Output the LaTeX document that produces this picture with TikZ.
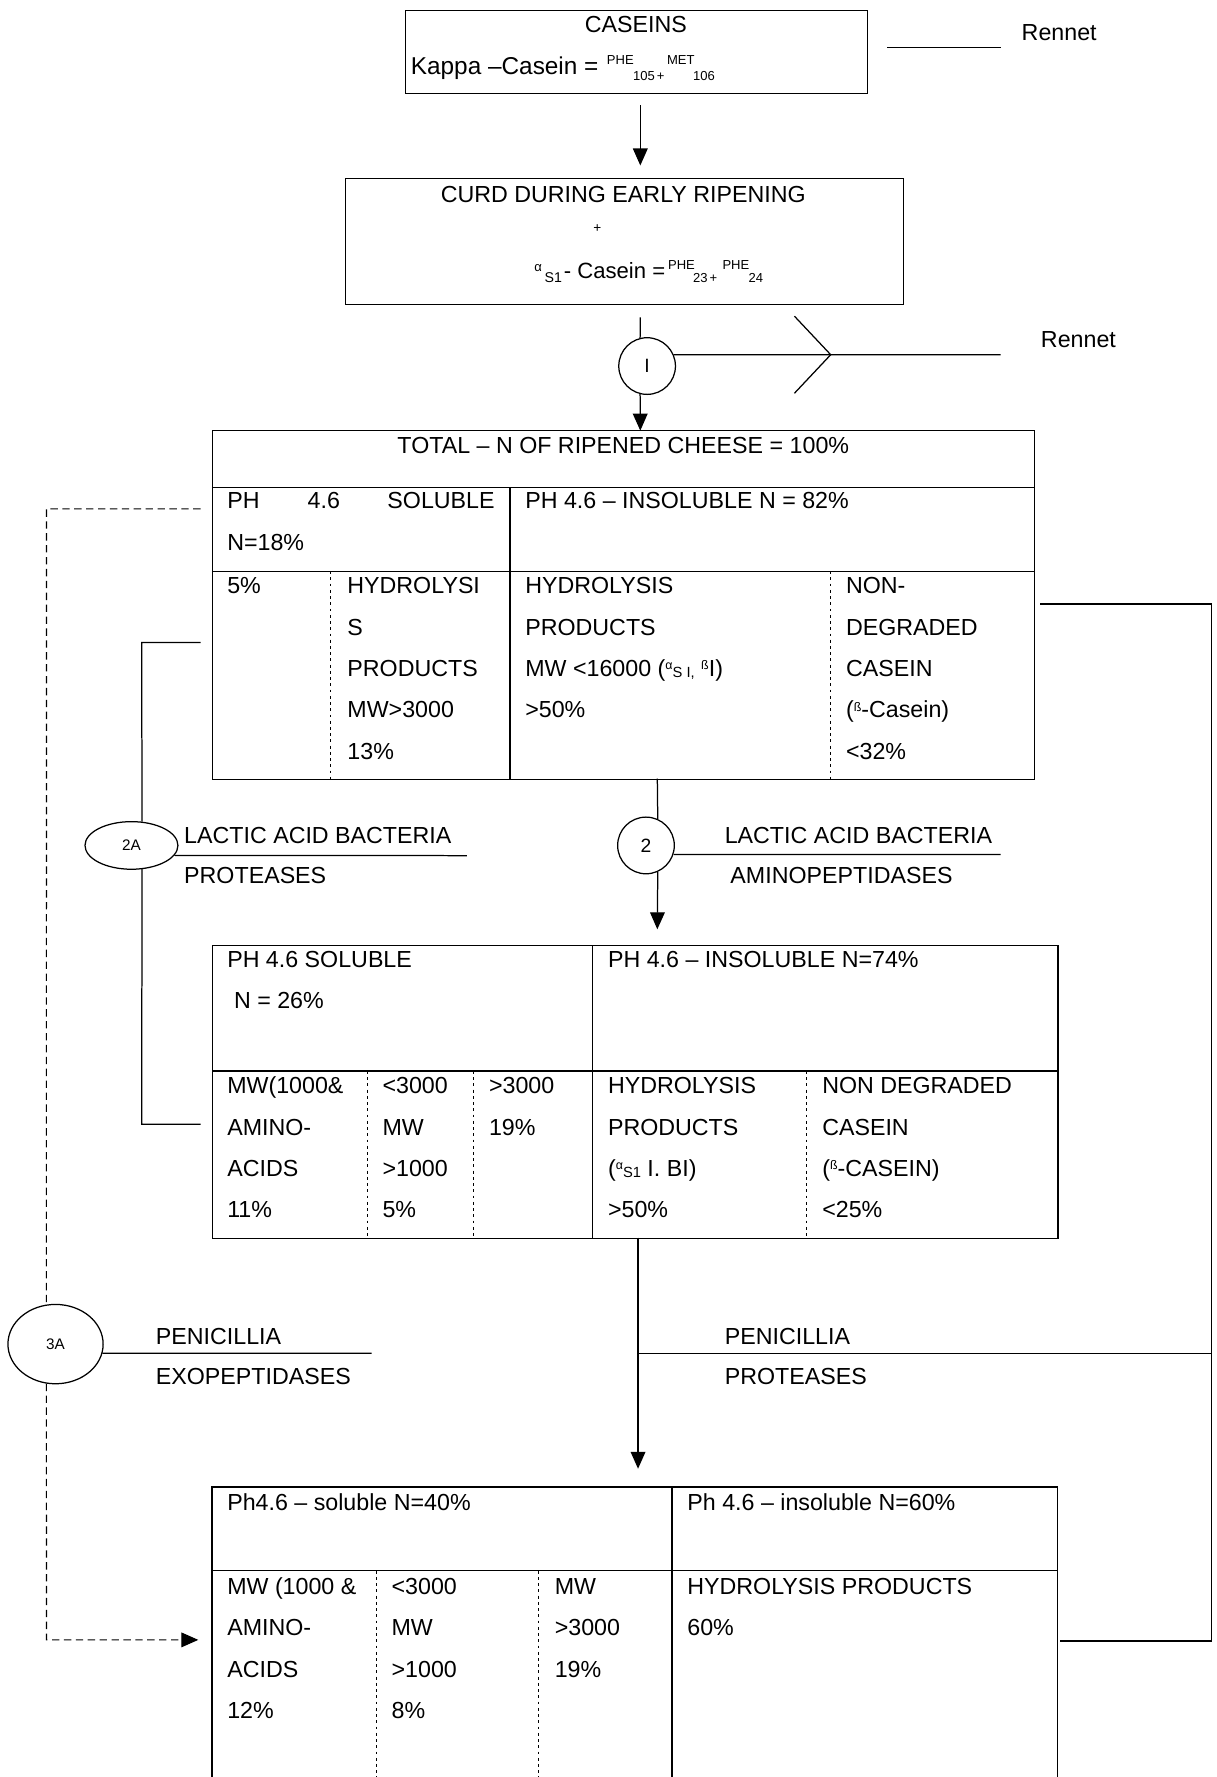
\documentclass[tikz,border=0pt]{standalone}
\usepackage{fontspec}
\setmainfont{Liberation Sans}
\usetikzlibrary{arrows.meta,shapes.geometric}
\newcommand\smsup[1]{\raisebox{6pt}{\fontsize{11}{11}\selectfont #1}}
\newcommand\smsub[1]{\raisebox{-1pt}{\fontsize{13}{13}\selectfont #1}}
\newcommand\celltext[4]{\foreach \tline [count=\ti from 0] in {#4} {\node[txt] (#1-\ti) at (#2,#3+36.5*\ti) {\tline};}}
\begin{document}
\begin{tikzpicture}[x=1pt,y=-1pt,line width=1.1pt,
  txt/.style={anchor=base west,inner sep=0pt,font=\fontsize{20.5}{24}\selectfont},
  ctxt/.style={anchor=base,inner sep=0pt,font=\fontsize{20.5}{24}\selectfont},
  etxt/.style={anchor=base east,inner sep=0pt,font=\fontsize{20.5}{24}\selectfont},
  smtxt/.style={anchor=base west,inner sep=0pt,font=\fontsize{11.5}{12}\selectfont},
  boxn/.style={draw,anchor=north west,inner sep=0pt},
  dotln/.style={line width=0.9pt,dash pattern=on 2.5pt off 3pt},
  dashln/.style={line width=1pt,dash pattern=on 6.5pt off 4pt},
  arr/.style={-{Triangle[length=15pt,width=13pt]}},
  ring/.style={draw,circle,minimum size=50pt,inner sep=0pt,font=\fontsize{17}{17}\selectfont},
  oval/.style={draw,ellipse,inner sep=0pt,font=\fontsize{13.5}{14}\selectfont}]
\useasboundingbox (0,0) rectangle (1073,1568);
% ---------- box 1
\node[boxn,minimum width=408pt,minimum height=73pt] (b1) at (357,9) {};
\node[ctxt] (tcas) at (561,29) {CASEINS};
\node[txt,font=\fontsize{21.5}{24}\selectfont] (tkap) at (362,66) {Kappa –Casein =};
\node[smtxt] (tphe1) at (535,57) {PHE};
\node[smtxt] (t105) at (558,71) {105\,+};
\node[smtxt] (tmet) at (588,57) {MET};
\node[smtxt] (t106) at (611,71) {106};
\node[txt] (rn1) at (901,36) {Rennet};
\coordinate (r1a) at (783,42); \coordinate (r1b) at (883,42);
% ---------- box 2
\node[boxn,minimum width=493pt,minimum height=111pt] (b2) at (304,157) {};
\node[ctxt] (tcurd) at (550,179) {CURD DURING EARLY RIPENING};
\node[inner sep=0pt,font=\fontsize{12}{12}\selectfont] (tplus) at (527,202) {+};
\node[smtxt] (talp) at (471,240) {α};
\node[smtxt,font=\fontsize{12.5}{13}\selectfont] (ts1) at (480,249) {S1};
\node[txt,font=\fontsize{19.5}{22}\selectfont] (tcasein) at (497,246) {- Casein =};
\node[smtxt] (tphe2) at (589,238) {PHE};
\node[smtxt] (t23) at (611,249) {23\,+};
\node[smtxt] (tphe3) at (637,238) {PHE};
\node[smtxt] (t24) at (660,249) {24};
% ---------- circle I
\node[ring] (c1) at (571,323) {I};
\node[txt] (rn2) at (918,307) {Rennet};
% ---------- box 3
\node[boxn,minimum width=725pt,minimum height=308pt] (b3) at (187,379) {};
\draw (187,430) -- (912,430);
\draw (187,504) -- (912,504);
\draw (450,430) -- (450,687);
\draw[dotln] (292,504) -- (292,687);
\draw[dotln] (733,504) -- (733,687);
\node[ctxt] (ttot) at (550,400) {TOTAL – N OF RIPENED CHEESE = 100\%};
\node[txt] (ph1a) at (200,449) {PH};
\node[txt] (ph1b) at (271,449) {4.6};
\node[etxt] (ph1c) at (437,449) {SOLUBLE};
\node[txt] (n18) at (200,486) {N=18\%};
\node[txt] (ins82) at (463,449) {PH 4.6 – INSOLUBLE N = 82\%};
\celltext{c3a}{200}{524}{5\%}
\celltext{c3b}{306}{524}{HYDROLYSI,S,PRODUCTS,MW>3000,13\%}
\celltext{c3c}{463}{524}{HYDROLYSIS,PRODUCTS,{MW <16000 (\smsup{α}\smsub{S I,} \smsup{ß}I)},>50\%}
\celltext{c3d}{746}{524}{NON-,DEGRADED,CASEIN,(\smsup{ß}-Casein),<32\%}
% ---------- circle 2 / ellipse 2A
\node[ring] (c2) at (570,746) {2};
\node[oval,minimum width=82pt,minimum height=42pt] (e2a) at (116,746) {2A};
\node[txt] (lab1) at (162,744) {LACTIC ACID BACTERIA};
\node[txt] (pro1) at (162,780) {PROTEASES};
\node[txt] (lab2) at (639,744) {LACTIC ACID BACTERIA};
\node[txt] (amp) at (644,780) {AMINOPEPTIDASES};
% ---------- box 4
\node[boxn,minimum width=746pt,minimum height=258pt] (b4) at (187,834) {};
\draw (187,945) -- (933,945);
\draw (523,834) -- (523,1092);
\draw[dotln] (324,945) -- (324,1092);
\draw[dotln] (418,945) -- (418,1092);
\draw[dotln] (712,945) -- (712,1092);
\node[txt] (s26a) at (200,854) {PH 4.6 SOLUBLE};
\node[txt] (s26b) at (206,890) {N = 26\%};
\node[txt] (ins74) at (536,854) {PH 4.6 – INSOLUBLE N=74\%};
\celltext{c4a}{200}{965}{MW(1000\&,AMINO-,ACIDS,11\%}
\celltext{c4b}{337}{965}{<3000,MW,>1000,5\%}
\celltext{c4c}{431}{965}{>3000,19\%}
\celltext{c4d}{536}{965}{HYDROLYSIS,PRODUCTS,(\smsup{α}\smsub{S1} I. BI),>50\%}
\celltext{c4e}{725}{965}{NON DEGRADED,CASEIN,(\smsup{ß}-CASEIN),<25\%}
% ---------- ellipse 3A and labels
\node[oval,minimum width=84pt,minimum height=70pt] (e3a) at (49,1186) {3A};
\node[txt] (pen1) at (137,1186) {PENICILLIA};
\node[txt] (exo) at (137,1222) {EXOPEPTIDASES};
\node[txt] (pen2) at (639,1186) {PENICILLIA};
\node[txt] (pro2) at (639,1222) {PROTEASES};
% ---------- box 5 (open at the bottom)
\coordinate (b5sw) at (187,1572); \coordinate (b5nw) at (187,1312);
\coordinate (b5ne) at (933,1312); \coordinate (b5se) at (933,1572);
\draw (b5sw) -- (b5nw) -- (b5ne) -- (b5se);
\draw (187,1386) -- (933,1386);
\draw (593,1312) -- (593,1572);
\draw[dotln] (332,1386) -- (332,1572);
\draw[dotln] (475,1386) -- (475,1572);
\node[txt] (s40) at (200,1333) {Ph4.6 – soluble N=40\%};
\node[txt] (i60) at (606,1333) {Ph 4.6 – insoluble N=60\%};
\celltext{c5a}{200}{1407}{MW (1000 \&,AMINO-,ACIDS,12\%}
\celltext{c5b}{345}{1407}{<3000,MW,>1000,8\%}
\celltext{c5c}{489}{1407}{MW,>3000,19\%}
\celltext{c5d}{606}{1407}{HYDROLYSIS PRODUCTS,60\%}
% ---------- connectors
\draw (r1a) -- (r1b);
\coordinate (a1s) at (565,93); \coordinate (a1e) at (565,146);
\draw[arr] (a1s) -- (a1e);
\coordinate (p1) at (565,280);
\draw (p1) -- (c1.104);
\coordinate (p1e) at (565,380);
\draw[arr] (c1.-104) -- (p1e);
\coordinate (rr) at (883,313);
\draw (c1.23.6) -- (rr);
\coordinate (chA) at (701,279); \coordinate (chB) at (733,313); \coordinate (chC) at (701,347);
\draw (chA) -- (chB) -- (chC);
% step 2
\coordinate (m2s) at (580,687); \coordinate (m2e) at (580,820);
\draw (m2s) -- (c2.66.4);
\draw[arr] (c2.-66.4) -- (m2e);
\coordinate (m2r) at (883,754);
\draw (c2.-18.7) -- (m2r);
% step 2A
\coordinate (l2a) at (177,567); \coordinate (l2b) at (125,567);
\coordinate (l2c) at (125,992); \coordinate (l2d) at (177,992);
\draw (l2a) -- (l2b) -- (e2a.66.3);
\draw (e2a.-66.3) -- (l2c) -- (l2d);
\coordinate (u2a) at (412,755);
\draw (e2a.-13.7) -- (u2a);
% step 3
\coordinate (m3s) at (563,1092); \coordinate (m3e) at (563,1296);
\draw[arr] (m3s) -- (m3e);
\coordinate (rq1) at (918,533); \coordinate (rq2) at (1069,533);
\coordinate (rq3) at (1069,1448); \coordinate (rq4) at (935,1448);
\draw (rq1) -- (rq2) -- (rq3) -- (rq4);
\coordinate (pp1) at (563,1194); \coordinate (pp2) at (1069,1194);
\draw (pp1) -- (pp2);
% step 3A (dashed)
\coordinate (d1) at (177,449); \coordinate (d2) at (41,449);
\coordinate (d3) at (41,1447); \coordinate (d4) at (175,1447);
\draw[dashln] (d1) -- (d2) -- (e3a.103.1);
\draw[dashln,arr] (e3a.-103.1) -- (d3) -- (d4);
\coordinate (u3a) at (328,1194);
\draw (e3a.-11.1) -- (u3a);
\end{tikzpicture}
\end{document}
